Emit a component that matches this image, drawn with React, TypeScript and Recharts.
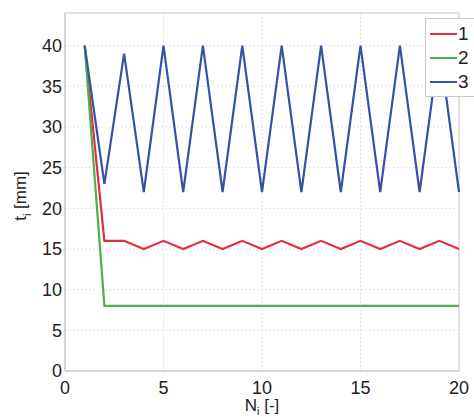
import React from "react";
import { LineChart, Line, XAxis, YAxis, CartesianGrid, ReferenceArea } from "recharts";

const steps = [1, 2, 3, 4, 5, 6, 7, 8, 9, 10, 11, 12, 13, 14, 15, 16, 17, 18, 19, 20];
const series1 = [40, 16, 16, 15, 16, 15, 16, 15, 16, 15, 16, 15, 16, 15, 16, 15, 16, 15, 16, 15];
const series2 = [40, 8, 8, 8, 8, 8, 8, 8, 8, 8, 8, 8, 8, 8, 8, 8, 8, 8, 8, 8];
const series3 = [40, 23, 39, 22, 40, 22, 40, 22, 40, 22, 40, 22, 40, 22, 40, 22, 40, 22, 40, 22];
const xTicks = [0, 5, 10, 15, 20];
const yTicks = [0, 5, 10, 15, 20, 25, 30, 35, 40];

const names = ["1", "2", "3"];
const colors = ["#e0303e", "#4caf50", "#3553a6"];

const data = steps.map((n, i) => ({ n, s1: series1[i], s2: series2[i], s3: series3[i] }));

const FONT = "Liberation Sans, Arial, sans-serif";

const LegendBox = () => (
  <div
    style={{
      position: "absolute",
      left: 425,
      top: 18,
      width: 60,
      height: 79,
      border: "1px solid #c8c8c8",
      background: "#fff",
      boxSizing: "border-box",
      padding: "3px 0 0 4px",
      fontFamily: FONT,
      fontSize: 19,
      color: "#222",
    }}
  >
    {names.map((name, i) => (
      <div key={name} style={{ display: "flex", alignItems: "center", height: 24 }}>
        <span style={{ width: 27, height: 2, background: colors[i], display: "inline-block" }} />
        <span style={{ marginLeft: 1 }}>{name}</span>
      </div>
    ))}
  </div>
);

const YLabel = () => (
  <text
    transform="translate(26,196) rotate(-90)"
    textAnchor="middle"
    fontFamily={FONT}
    fontSize={17}
    fill="#222"
  >
    t<tspan fontSize={11} dy={5}>i</tspan>
    <tspan dy={-5}> [mm]</tspan>
  </text>
);

const XLabel = () => (
  <text x={262} y={411} textAnchor="middle" fontFamily={FONT} fontSize={17} fill="#222">
    N<tspan fontSize={11} dy={4}>i</tspan>
    <tspan dy={-4}> [-]</tspan>
  </text>
);

export default function App() {
  return (
    <div style={{ position: "fixed", left: 0, top: 0, width: 474, height: 417, overflow: "hidden", background: "#fff" }}>
      <LineChart width={474} height={417} data={data} margin={{ top: 13, right: 15, bottom: 16, left: 35 }}>
        <CartesianGrid stroke="#e4e4e4" strokeDasharray="2 2" />
        <XAxis
          dataKey="n"
          type="number"
          domain={[0, 20]}
          ticks={xTicks}
          height={30}
          axisLine={{ stroke: "#c8c8c8" }}
          tickLine={false}
          tick={{ fill: "#222", fontSize: 18, fontFamily: FONT }}
          tickMargin={4}
          label={<XLabel />}
        />
        <YAxis
          type="number"
          domain={[0, 44]}
          ticks={yTicks}
          width={30}
          axisLine={{ stroke: "#c8c8c8" }}
          tickLine={false}
          tickSize={3}
          tick={{ fill: "#222", fontSize: 18, fontFamily: FONT }}
          tickMargin={0}
          label={<YLabel />}
        />
        <ReferenceArea x1={0} x2={20} y1={0} y2={44} fill="none" stroke="#c8c8c8" ifOverflow="visible" />
        <Line dataKey="s1" name={names[0]} stroke={colors[0]} strokeWidth={2.2} dot={false} isAnimationActive={false} />
        <Line dataKey="s2" name={names[1]} stroke={colors[1]} strokeWidth={2.2} dot={false} isAnimationActive={false} />
        <Line dataKey="s3" name={names[2]} stroke={colors[2]} strokeWidth={2.2} dot={false} isAnimationActive={false} />
      </LineChart>
      <LegendBox />
    </div>
  );
}
